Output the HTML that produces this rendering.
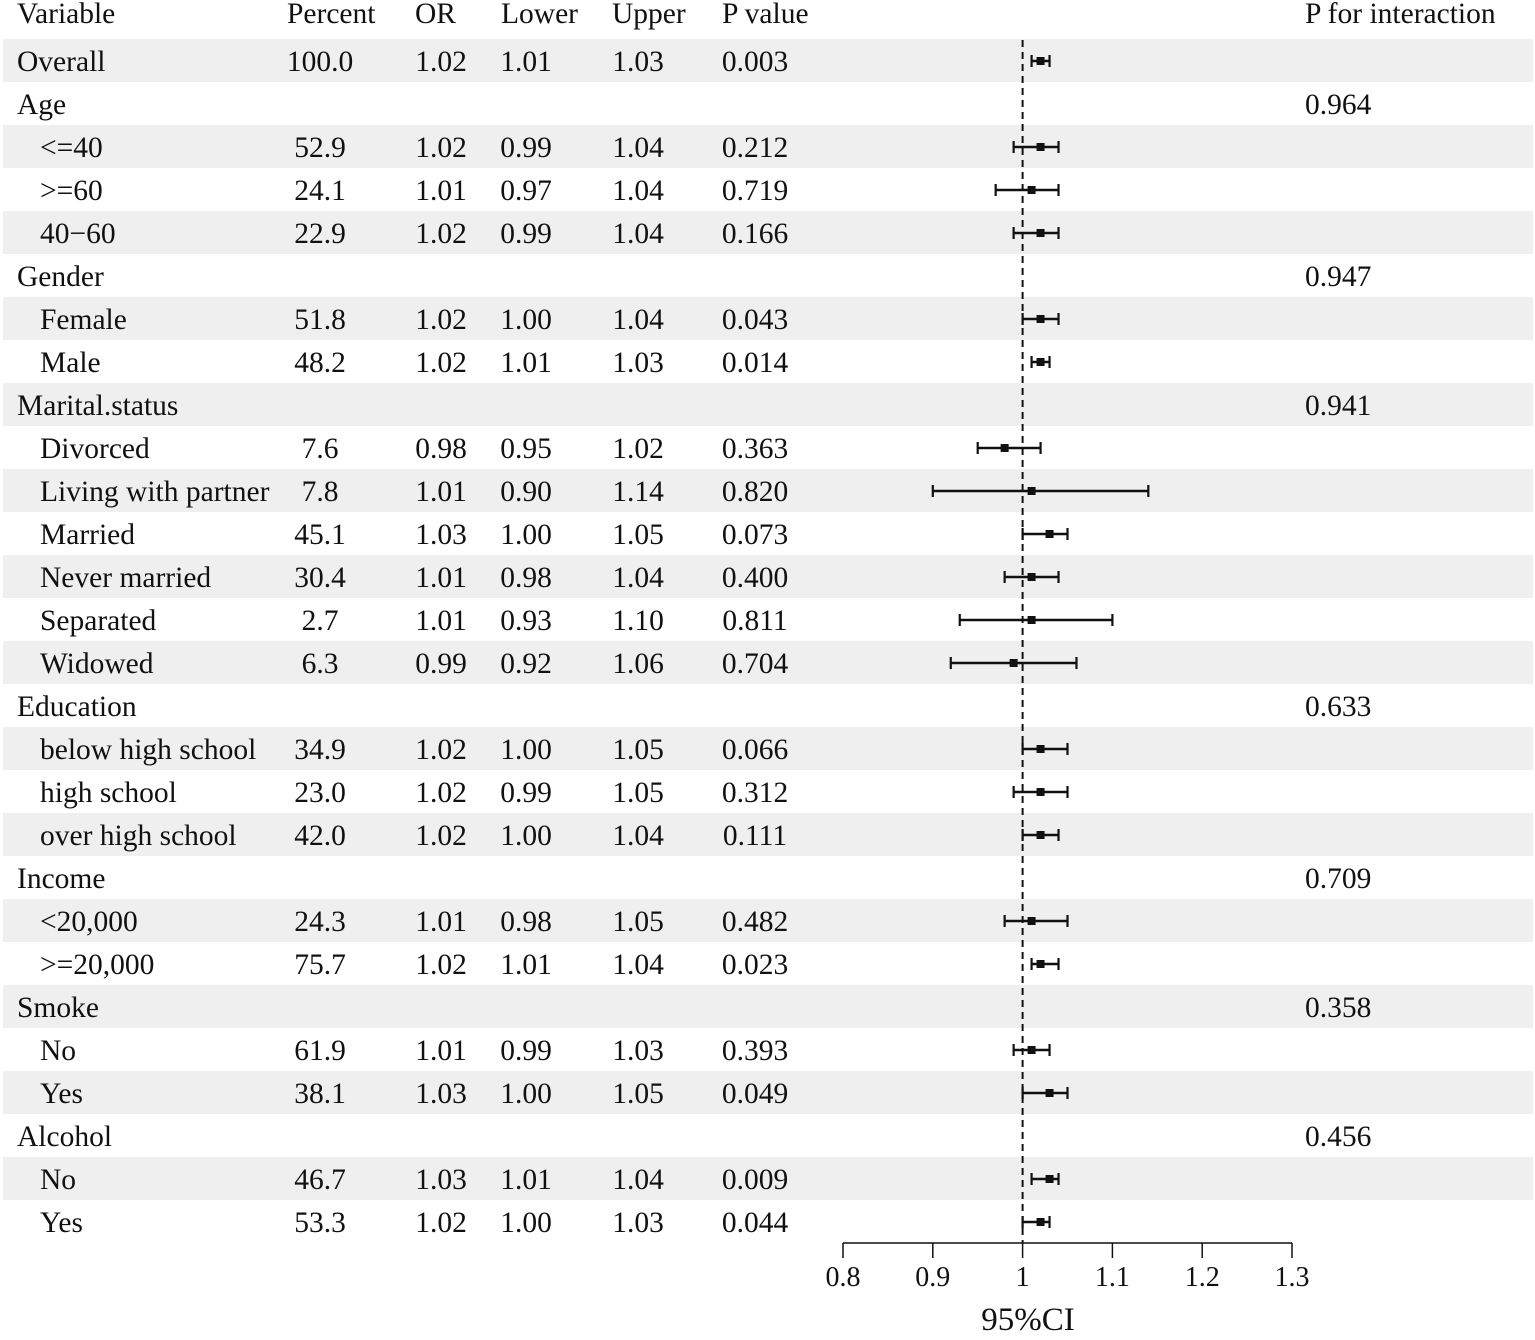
<!DOCTYPE html>
<html><head><meta charset="utf-8"><style>
body{margin:0;background:#fff;}
svg text{font-family:"Liberation Serif","Times New Roman",serif;font-size:29.5px;fill:#111;}
</style></head><body>
<svg id="chart" width="1535" height="1335" xmlns="http://www.w3.org/2000/svg"></svg>
<script>
const labels=["Overall","Age","<=40",">=60","40\u221260","Gender","Female","Male","Marital.status","Divorced","Living with partner","Married","Never married","Separated","Widowed","Education","below high school","high school","over high school","Income","<20,000",">=20,000","Smoke","No","Yes","Alcohol","No","Yes"];
const isGroup=[0,1,0,0,0,1,0,0,1,0,0,0,0,0,0,1,0,0,0,1,0,0,1,0,0,1,0,0];
const percent=["100.0","","52.9","24.1","22.9","","51.8","48.2","","7.6","7.8","45.1","30.4","2.7","6.3","","34.9","23.0","42.0","","24.3","75.7","","61.9","38.1","","46.7","53.3"];
const orv=[1.02,null,1.02,1.01,1.02,null,1.02,1.02,null,0.98,1.01,1.03,1.01,1.01,0.99,null,1.02,1.02,1.02,null,1.01,1.02,null,1.01,1.03,null,1.03,1.02];
const lower=[1.01,null,0.99,0.97,0.99,null,1.00,1.01,null,0.95,0.90,1.00,0.98,0.93,0.92,null,1.00,0.99,1.00,null,0.98,1.01,null,0.99,1.00,null,1.01,1.00];
const upper=[1.03,null,1.04,1.04,1.04,null,1.04,1.03,null,1.02,1.14,1.05,1.04,1.10,1.06,null,1.05,1.05,1.04,null,1.05,1.04,null,1.03,1.05,null,1.04,1.03];
const pval=["0.003","","0.212","0.719","0.166","","0.043","0.014","","0.363","0.820","0.073","0.400","0.811","0.704","","0.066","0.312","0.111","","0.482","0.023","","0.393","0.049","","0.009","0.044"];
const pint=["","0.964","","","","0.947","","","0.941","","","","","","","0.633","","","","0.709","","","0.358","","","0.456","",""];
const ticks=[0.8,0.9,1,1.1,1.2,1.3];
const tickLabels=["0.8","0.9","1","1.1","1.2","1.3"];

const svg=document.getElementById('chart');
const NS="http://www.w3.org/2000/svg";
const x=v=>843+(v-0.8)*898;
const rowY=i=>61+i*43;
function el(tag,attrs,txt){const e=document.createElementNS(NS,tag);for(const k in attrs)e.setAttribute(k,attrs[k]);if(txt!==undefined)e.textContent=txt;svg.appendChild(e);return e;}
function txt(s,xx,yy,anchor,name,size){const t=el('text',{x:xx,y:yy+10,'text-anchor':anchor},s);
if(size)t.style.fontSize=size+'px';

return t;}

labels.forEach((l,i)=>{if(i%2===0){const r=el('rect',{x:3,y:rowY(i)-22,width:1530,height:43,fill:'#eeefee'});

}});

const hdr=[["Variable",17],["Percent",287],["OR",415],["Lower",501],["Upper",612],["P value",722],["P for interaction",1305]];
hdr.forEach(h=>txt(h[0],h[1],13,'start','header-'+h[0].toLowerCase().replace(/ /g,'-')));

labels.forEach((l,i)=>{const y=rowY(i);
txt(l,isGroup[i]||i===0?17:40,y,'start','row-label');
if(percent[i])txt(percent[i],320,y,'middle','percent-value');
if(orv[i]!==null){txt(orv[i].toFixed(2),441,y,'middle','or-value');
txt(lower[i].toFixed(2),526,y,'middle','lower-value');
txt(upper[i].toFixed(2),638,y,'middle','upper-value');}
if(pval[i])txt(pval[i],755,y,'middle','p-value');
if(pint[i])txt(pint[i],1305,y,'start','p-interaction');
});

const d=el('line',{x1:x(1),x2:x(1),y1:40,y2:1243,stroke:'#111','stroke-width':2,'stroke-dasharray':'7,5'});



labels.forEach((l,i)=>{if(orv[i]===null)return;const y=rowY(i);
const g=document.createElementNS(NS,'g');svg.appendChild(g);


const add=(t,a)=>{const e=document.createElementNS(NS,t);for(const k in a)e.setAttribute(k,a[k]);g.appendChild(e);};
add('line',{x1:x(lower[i]),x2:x(upper[i]),y1:y,y2:y,stroke:'#111','stroke-width':2.6});
add('line',{x1:x(lower[i]),x2:x(lower[i]),y1:y-6,y2:y+6,stroke:'#111','stroke-width':2.2});
add('line',{x1:x(upper[i]),x2:x(upper[i]),y1:y-6,y2:y+6,stroke:'#111','stroke-width':2.2});
add('rect',{x:x(orv[i])-4,y:y-4,width:8,height:8,fill:'#111'});
});

const ax=el('line',{x1:x(0.8),x2:x(1.3),y1:1243,y2:1243,stroke:'#111','stroke-width':1.5});


ticks.forEach((t,k)=>{const tl=el('line',{x1:x(t),x2:x(t),y1:1243,y2:1258,stroke:'#111','stroke-width':1.5});


txt(tickLabels[k],x(t),1276,'middle','x-tick-label',28);});
txt("95%CI",1028,1320,'middle','x-axis-title',33);
</script>
</body></html>
